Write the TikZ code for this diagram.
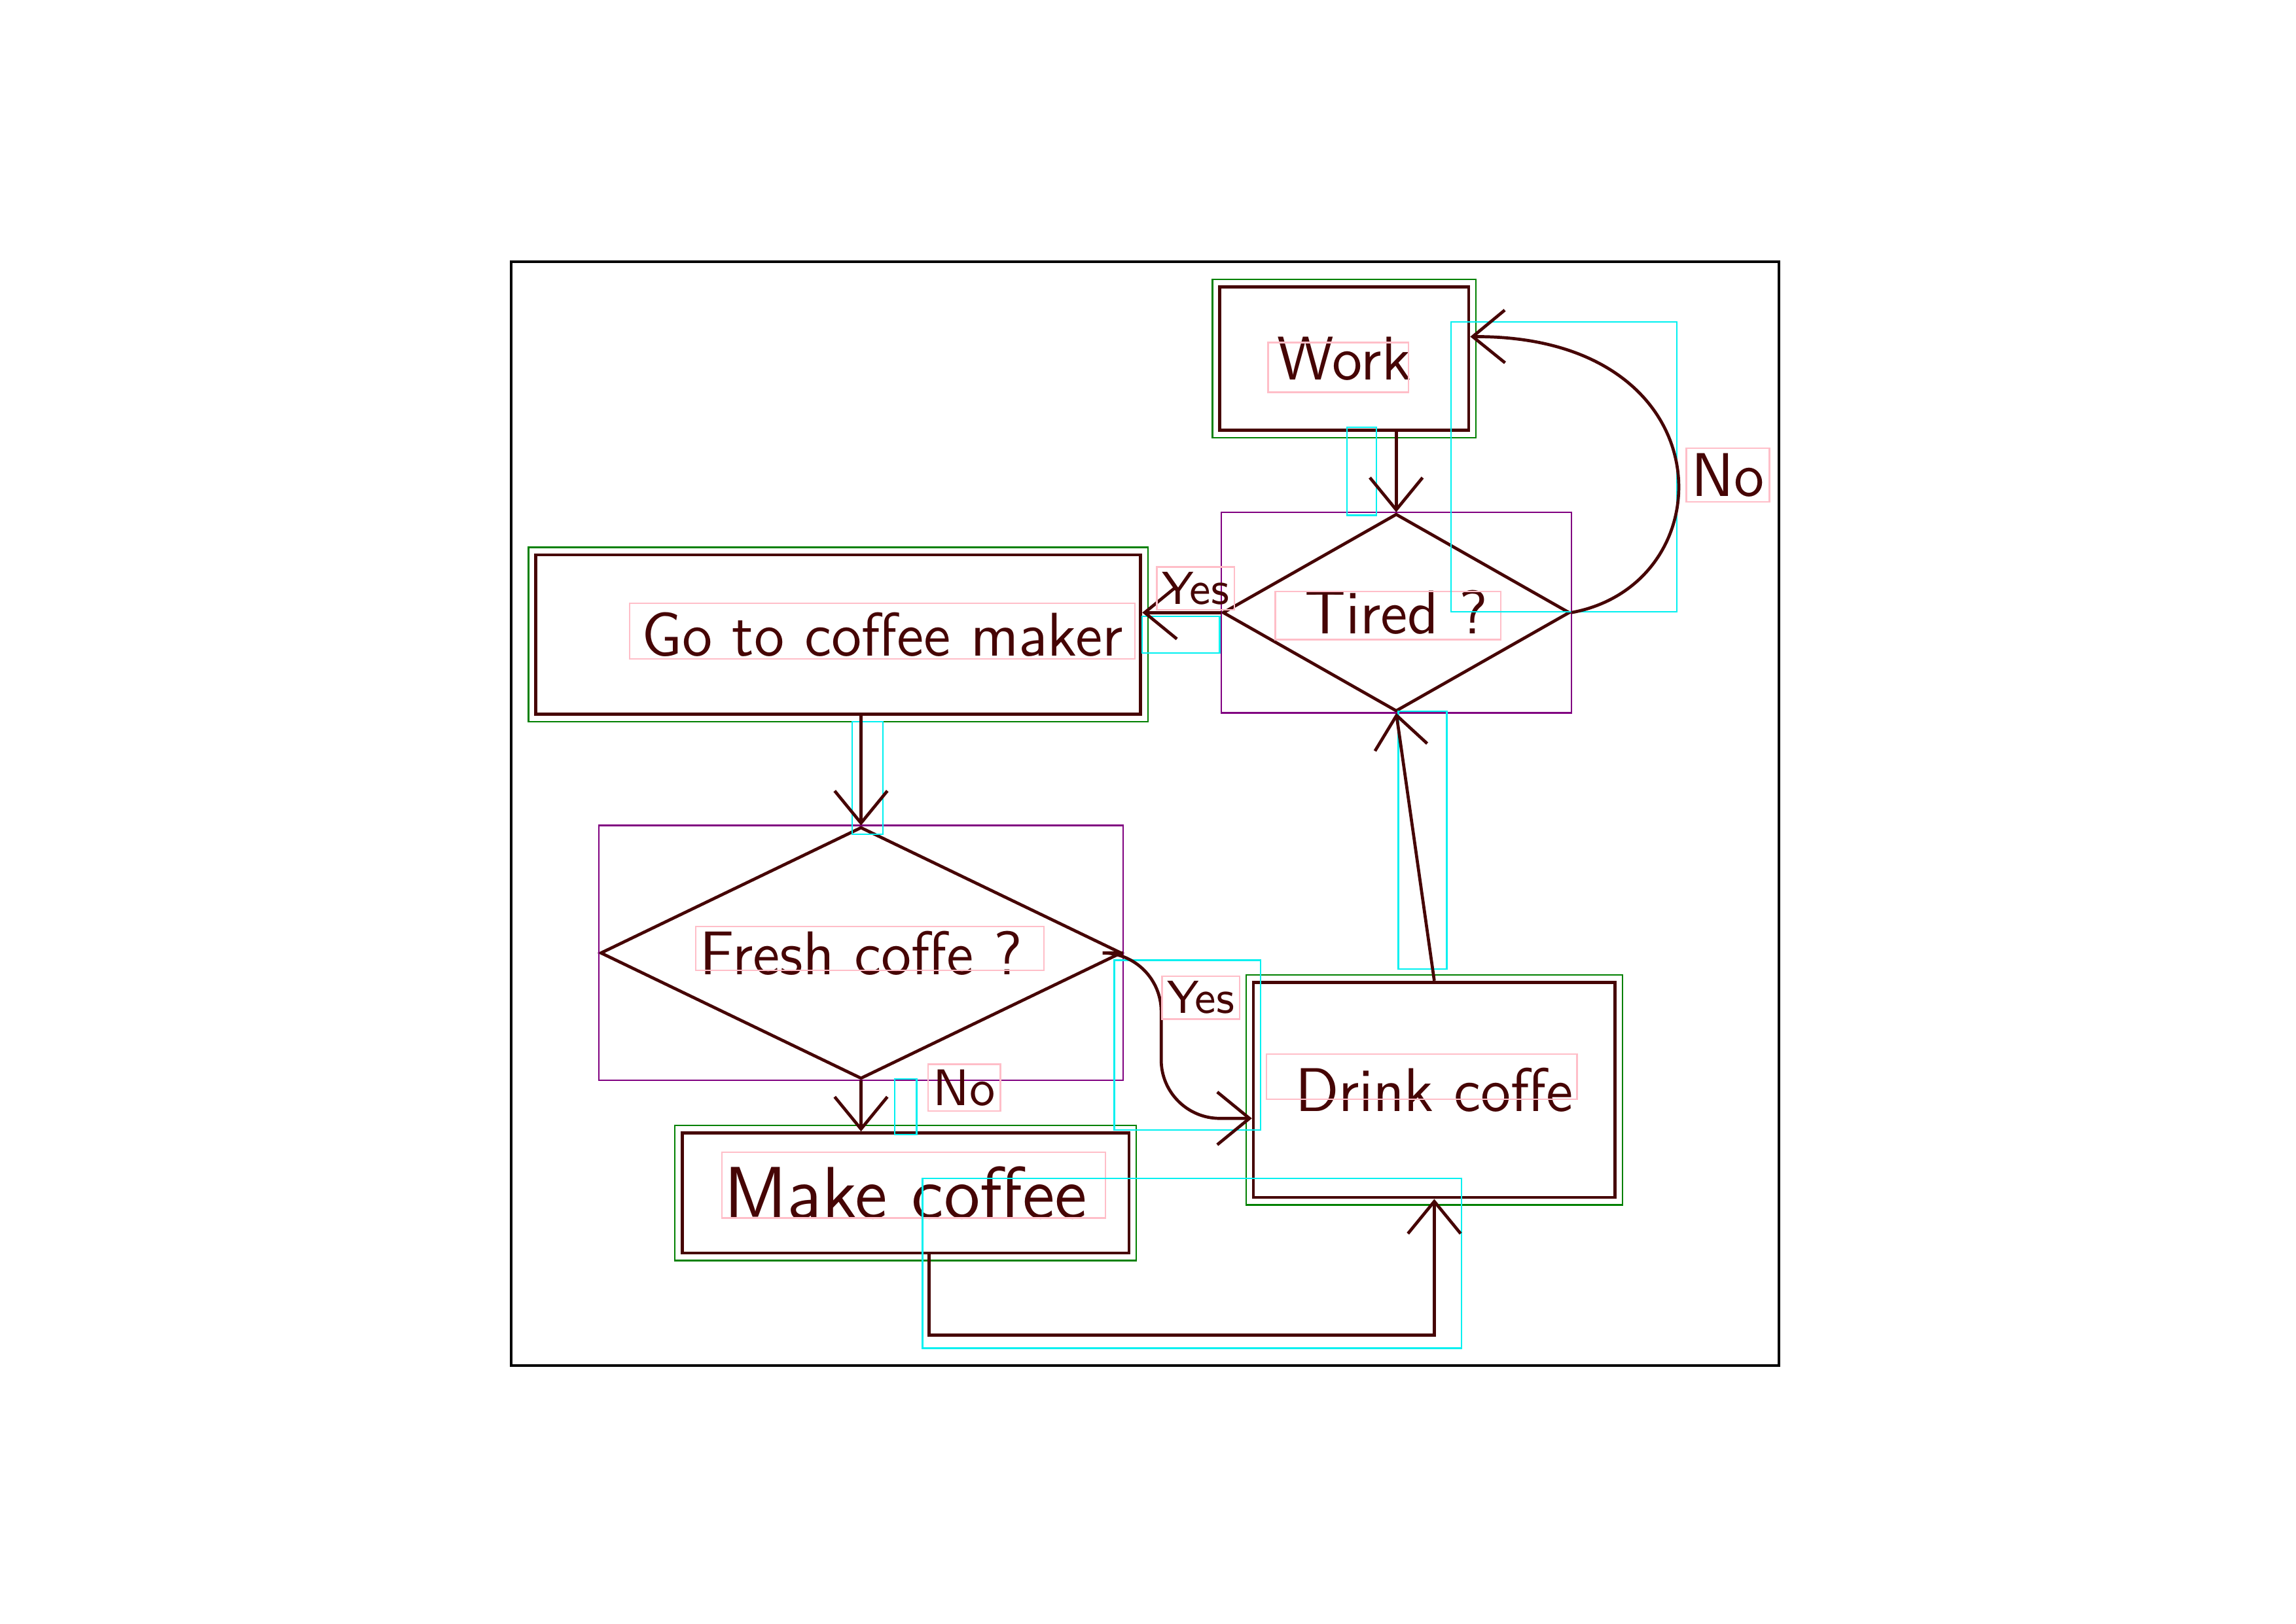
\documentclass[tikz,border=0pt]{standalone}
\usepackage{tikz}
\usetikzlibrary{shapes.geometric, arrows.meta, calc}

\definecolor{ink}{RGB}{70,5,5}
\definecolor{hintgreen}{RGB}{0,128,0}
\definecolor{hintpurple}{RGB}{128,0,128}
\definecolor{hintcyan}{RGB}{0,240,240}
\definecolor{hintpink}{RGB}{255,190,200}

\tikzset{
	procbox/.style={rectangle, draw=ink, text=ink, line width=0.6pt, inner sep=0pt, font=\sffamily\large},
	decision/.style={diamond, draw=ink, text=ink, line width=0.6pt, inner sep=0pt, font=\sffamily\large},
	flow/.style={draw=ink, line width=0.6pt, -{Straight Barb[length=2.2mm,width=3.6mm]}},
	answer/.style={font=\sffamily, text=ink, draw=hintpink, line width=0.3pt, inner sep=1pt},
	hint/.style={line width=0.3pt}
}

\begin{document}
\begin{tikzpicture}
				\useasboundingbox (0,0) rectangle (15.68,11.09);
				\draw[line width=0.5pt] (3.49,1.76) rectangle (12.15,9.30);% outer frame
				
				\node[procbox, minimum width=1.70cm, minimum height=0.98cm] (Work) at (9.18,8.64) {Work};
				\node[decision, aspect=1.76, minimum width=2.37cm, minimum height=1.35cm] (Tired) at (9.535,6.905) {Tired ?};
				\node[procbox, minimum width=4.13cm, minimum height=1.09cm] (GoMaker) at (5.725,6.755) {\hspace*{6mm}Go to coffee maker};
				\node[decision, aspect=2.07, minimum width=3.56cm, minimum height=1.72cm] (Fresh) at (5.88,4.58) {Fresh coffe ?};
				\node[procbox, font=\sffamily\Large, minimum width=3.05cm, minimum height=0.82cm] (MakeCoffee) at (6.185,2.94) {Make coffee};
				\node[procbox, minimum width=2.47cm, minimum height=1.47cm] (DrinkCoffee) at (9.795,3.645) {Drink coffe};
				
				% boxes round the shapes
				\foreach \n in {Work, GoMaker, MakeCoffee, DrinkCoffee}
					\draw[hint, hintgreen] ([shift={(-0.04,-0.04)}]\n.south west) rectangle ([shift={(0.04,0.04)}]\n.north east);
				\foreach \n in {Tired, Fresh}
					\draw[hint, hintpurple] (\n.west |- \n.north) rectangle (\n.east |- \n.south);
				% boxes round the texts
				\foreach \xa/\ya/\xb/\yb in {8.66/8.41/9.62/8.75, 8.71/6.72/10.25/7.05, 4.30/6.59/7.75/6.97, 4.75/4.46/7.13/4.76, 4.93/2.77/7.55/3.22, 8.65/3.58/10.77/3.89}
					\draw[hint, hintpink] (\xa,\ya) rectangle (\xb,\yb);
				% boxes round the arrows
				\foreach \xa/\ya/\xb/\yb in {9.20/7.57/9.40/8.17, 9.91/6.91/11.45/8.89, 7.80/6.63/8.33/6.88, 5.82/5.39/6.03/6.16, 6.11/3.34/6.26/3.72, 7.61/3.37/8.61/4.53, 6.30/1.88/9.98/3.04, 9.55/4.47/9.88/6.23}
					\draw[hint, hintcyan] (\xa,\ya) rectangle (\xb,\yb);
				
				\draw[flow] (Work.south -| Tired.north) -- (Tired.north);
				\draw[flow] (Tired.east) .. controls (11.8,7.1) and (11.8,8.8) .. ([yshift=1.5mm]Work.east);
				\draw[flow] (Tired.west) -- (GoMaker.east |- Tired.west);
				\draw[flow] (GoMaker.south -| Fresh.north) -- (Fresh.north);
				\draw[flow] (Fresh.south) -- (Fresh.south |- MakeCoffee.north);
				\coordinate (yesbend) at (7.93,3.45);
				\draw[flow, rounded corners=4mm] (Fresh.east) -| (yesbend) -- (DrinkCoffee.west |- yesbend);
				\draw[flow] ([xshift=1.6mm]MakeCoffee.south) -- ++(0,-0.55) -| (DrinkCoffee.south);
				\draw[flow] (DrinkCoffee.north) -- (Tired.south);
				
				\node[answer, font=\sffamily\large] (noloop) at (11.80,7.845) {No};
				\node[answer, font=\sffamily\small] (yestired) at (8.165,7.07) {Yes};
				\node[answer, font=\sffamily\small] (yesfresh) at (8.20,4.275) {Yes};
				\node[answer] (nofresh) at (6.585,3.66) {No};
\end{tikzpicture}
\end{document}
